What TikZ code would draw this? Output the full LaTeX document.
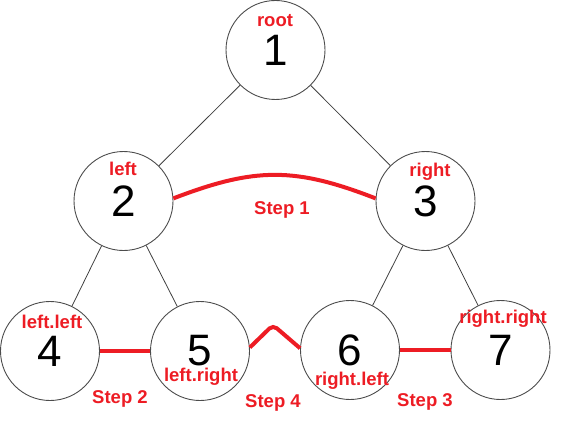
\documentclass[tikz,border=0pt]{standalone}
\usepackage{fontspec}
\setmainfont{Liberation Sans}
\usepackage{xcolor}
\usepackage{tikz}
\usetikzlibrary{arrows.meta, positioning}
\definecolor{stepred}{RGB}{237,28,36}

\begin{document}
\begin{tikzpicture}[
    x=1pt, y=-1pt,
    treenode/.style={draw=black!70, circle, minimum size=99pt, inner sep=0pt,
                     line width=0.9pt, font=\fontsize{44}{44}\selectfont},
    tag/.style={anchor=base, text=stepred, inner sep=0pt,
                font=\fontsize{18.5}{18.5}\selectfont\bfseries},
    edge/.style={draw=black!75, line width=0.8pt},
    steppath/.style={draw=stepred, line width=4pt}
  ]
    \useasboundingbox (0,0) rectangle (561,425);
    % the tree
    \node[treenode] (n1) at (275.5,50) {1};
    \node[treenode] (n2) at (123.5,201) {2};
    \node[treenode] (n3) at (425.5,201) {3};
    \node[treenode] (n4) at (50,351) {4};
    \node[treenode] (n5) at (200,351) {5};
    \node[treenode] (n6) at (350,350) {6};
    \node[treenode] (n7) at (500.5,350) {7};
    \draw[edge] (n1) -- (n2);
    \draw[edge] (n1) -- (n3);
    \draw[edge] (n2) -- (n4);
    \draw[edge] (n2) -- (n5);
    \draw[edge] (n3) -- (n6);
    \draw[edge] (n3) -- (n7);
    % the steps
    \coordinate (bump) at (273,325);
    \draw[steppath] (n2.3) .. controls (255,167) and (295,167) .. (n3.177);
    \draw[steppath] (n4) -- (n5);
    \draw[steppath] (n6) -- (n7);
    \draw[steppath, rounded corners=5pt] (n5.4) -- (bump) -- (n6.178);
    % labels
    \node[tag] (lroot) at (275,27) {root};
    \node[tag] (lleft) at (123,175) {left};
    \node[tag] (lright) at (430,176) {right};
    \node[tag] (lll) at (52,328) {left.left};
    \node[tag] (llr) at (201,381) {left.right};
    \node[tag] (lrl) at (352,385) {right.left};
    \node[tag] (lrr) at (503,323) {right.right};
    \node[tag] (s1) at (282,214) {Step 1};
    \node[tag] (s2) at (120,403) {Step 2};
    \node[tag] (s3) at (425,406) {Step 3};
    \node[tag] (s4) at (273,407) {Step 4};
\end{tikzpicture}
\end{document}
